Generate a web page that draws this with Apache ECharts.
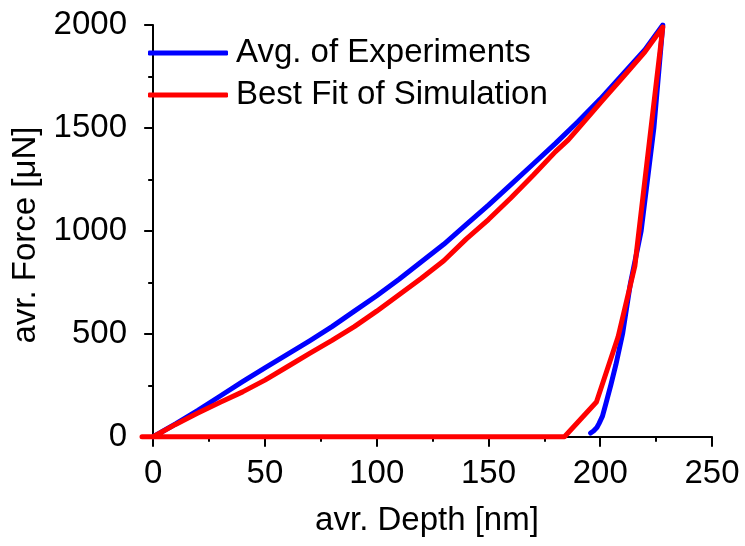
<!DOCTYPE html>
<html><head><meta charset="utf-8">
<script src="https://cdn.jsdelivr.net/npm/echarts@6/dist/echarts.min.js"></script>
<style>html,body{margin:0;padding:0;background:#fff}#c{width:745px;height:546px}</style>
</head><body><div id="c"></div><script>
const seriesNames = ['Avg. of Experiments', 'Best Fit of Simulation'];
// Avg. of Experiments: loading then unloading
const expDepth = [0, 10, 20, 30, 40, 50, 60, 70, 80, 90, 100, 110, 120, 130, 140, 150, 160, 170, 180, 190, 200, 210, 220, 228,
  224, 218.3, 213.5, 210, 207, 204.7, 202.5, 201, 199.5, 198.5, 197, 195.7];
const expForce = [0, 62, 128, 198, 268, 335, 400, 466, 535, 610, 685, 765, 850, 935, 1030, 1125, 1225, 1325, 1425, 1530, 1640, 1760, 1880, 2000,
  1500, 1000, 745, 500, 350, 250, 160, 100, 65, 45, 28, 18];
// Best Fit of Simulation: loading, unloading, then zero line
const simDepth = [0, 10, 20, 30, 40, 50, 60, 70, 80, 90, 100, 110, 120, 130, 140, 150, 160, 170, 180, 185.7, 190, 201.3, 210, 220, 228,
  215.5, 208, 198.3, 184, -5];
const simForce = [0, 60, 115, 168, 218, 275, 340, 405, 468, 535, 610, 690, 770, 855, 960, 1055, 1160, 1270, 1385, 1442, 1495, 1637, 1745, 1870, 1990,
  830, 486, 169, 0, 0];
const xTicks = [0, 50, 100, 150, 200, 250];
const xMinorTicks = [25, 75, 125, 175, 225];
const yTicks = [0, 500, 1000, 1500, 2000];
const yMinorTicks = [250, 750, 1250, 1750];
const xName = 'avr. Depth [nm]';
const yName = 'avr. Force [μN]';

const FONT = 'Liberation Sans, Arial, sans-serif';
const FS = 33;
const pair = (xs, ys) => xs.map((x, i) => [x, ys[i]]);
const axisLine = { show: true, lineStyle: { color: '#000', width: 2 } };
const plain = v => String(v);

const chart = echarts.init(document.getElementById('c'), null, { renderer: 'canvas' });
chart.setOption({
  animation: false,
  backgroundColor: '#fff',
  grid: { left: 142, right: 33, top: 25, bottom: 101, containLabel: false },
  legend: {
    orient: 'vertical', left: 143, top: 30,
    itemWidth: 80, itemHeight: 5, itemGap: 6, icon: 'roundRect',
    textStyle: { fontFamily: FONT, fontSize: FS, color: '#000', lineHeight: 36, padding: [0, 0, 0, 3] },
    data: seriesNames
  },
  xAxis: [{
    type: 'value', min: -5, max: 250, position: 'bottom',
    axisLine, splitLine: { show: false },
    axisTick: { show: true, inside: false, length: 10, customValues: xTicks, lineStyle: { color: '#000', width: 2 } },
    axisLabel: { show: true, customValues: xTicks, formatter: plain, margin: 12, fontFamily: FONT, fontSize: FS, color: '#000' },
    name: xName, nameLocation: 'middle', nameGap: 59,
    nameTextStyle: { fontFamily: FONT, fontSize: FS, color: '#000' }
  }, {
    type: 'value', min: -5, max: 250, position: 'bottom',
    axisLine: { show: false }, splitLine: { show: false }, axisLabel: { show: false },
    axisTick: { show: true, length: 5, customValues: xMinorTicks, lineStyle: { color: '#000', width: 2 } }
  }],
  yAxis: [{
    type: 'value', min: -40, max: 2000, position: 'left',
    axisLine, splitLine: { show: false },
    axisTick: { show: true, inside: false, length: 9, customValues: yTicks, lineStyle: { color: '#000', width: 2 } },
    axisLabel: { show: true, customValues: yTicks, formatter: plain, margin: 15, fontFamily: FONT, fontSize: FS, color: '#000' },
    name: yName, nameLocation: 'middle', nameGap: 95, nameRotate: 90,
    nameTextStyle: { fontFamily: FONT, fontSize: FS, color: '#000' }
  }, {
    type: 'value', min: -40, max: 2000, position: 'left',
    axisLine: { show: false }, splitLine: { show: false }, axisLabel: { show: false },
    axisTick: { show: true, length: 5, customValues: yMinorTicks, lineStyle: { color: '#000', width: 2 } }
  }],
  series: [{
    name: seriesNames[0], type: 'line', xAxisIndex: 0, yAxisIndex: 0,
    data: pair(expDepth, expForce), showSymbol: false, symbol: 'none', smooth: false,
    lineStyle: { color: '#0000ff', width: 5, cap: 'round', join: 'round' },
    itemStyle: { color: '#0000ff' }
  }, {
    name: seriesNames[1], type: 'line', xAxisIndex: 0, yAxisIndex: 0,
    data: pair(simDepth, simForce), showSymbol: false, symbol: 'none', smooth: false,
    lineStyle: { color: '#ff0000', width: 5, cap: 'round', join: 'round' },
    itemStyle: { color: '#ff0000' }
  }]
});
</script></body></html>
